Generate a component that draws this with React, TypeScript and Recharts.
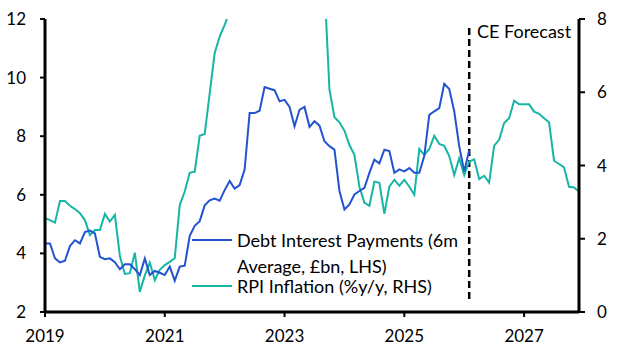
import React from 'react';
import { LineChart, Line, XAxis, YAxis, ReferenceLine } from 'recharts';

const startYear = 2019;

// Debt interest payments, 6m average, £bn (LHS), monthly from Jan 2019
const debtInterest = [
  4.34, 4.34, 3.83, 3.69, 3.75, 4.25, 4.45, 4.34, 4.73, 4.78, 4.68, 3.88,
  3.80, 3.83, 3.70, 3.46, 3.63, 3.63, 3.46, 3.26, 3.83, 3.26, 3.40, 3.34,
  3.26, 3.55, 3.07, 3.55, 3.58, 4.60, 4.94, 5.10, 5.64, 5.81, 5.87, 5.80,
  6.16, 6.47, 6.21, 6.33, 6.86, 8.79, 8.79, 8.87, 9.68, 9.62, 9.57, 9.19,
  9.24, 9.00, 8.34, 8.90, 9.00, 8.32, 8.51, 8.36, 7.83, 7.66, 7.54, 6.13,
  5.50, 5.67, 6.01, 6.13, 6.24, 6.75, 7.20, 7.07, 7.54, 7.49, 6.75, 6.87,
  6.80, 6.91, 6.75, 6.75, 7.32, 8.73, 8.85, 8.96, 9.79, 9.61, 8.85, 7.66,
  6.80, 7.52,
];

// RPI inflation, %y/y (RHS), monthly from Jan 2019 to Dec 2027
const rpiInflation = [
  2.56, 2.51, 2.44, 3.03, 3.03, 2.90, 2.81, 2.70, 2.51, 2.10, 2.24, 2.24,
  2.68, 2.47, 2.65, 1.53, 1.04, 1.06, 1.62, 0.55, 1.00, 1.35, 0.87, 1.15,
  1.28, 1.37, 1.47, 2.92, 3.29, 3.80, 3.83, 4.81, 4.86, 5.97, 7.07, 7.52,
  7.84, 8.2, 9.0, 11.1, 11.7, 11.8, 12.3, 12.3, 12.6, 14.2, 14.0, 13.4,
  13.4, 13.8, 13.5, 11.4, 11.3, 10.7, 9.0, 9.1, 8.9, 6.07, 5.32, 5.18,
  4.95, 4.56, 4.29, 3.42, 2.99, 2.90, 3.56, 3.53, 2.68, 3.42, 3.61, 3.45,
  3.61, 3.42, 3.20, 4.45, 4.29, 4.45, 4.81, 4.59, 4.54, 4.26, 3.74, 4.20,
  3.74, 4.11, 4.17, 3.63, 3.72, 3.53, 4.54, 4.70, 5.16, 5.29, 5.77, 5.67,
  5.67, 5.67, 5.47, 5.41, 5.29, 5.18, 4.13, 4.04, 3.95, 3.42, 3.40, 3.29,
];

const xTicks = [2019, 2021, 2023, 2025, 2027];
const leftTicks = [2, 4, 6, 8, 10, 12];
const rightTicks = [0, 2, 4, 6, 8];
const forecastStart = 2026 + 1 / 12;
const forecastLabel = 'CE Forecast';
const legendDebt = ['Debt Interest Payments (6m', 'Average, £bn, LHS)'];
const legendRpi = 'RPI Inflation (%y/y, RHS)';

const data = rpiInflation.map((r, i) => ({
  t: startYear + i / 12,
  rpi: r,
  debt: i < debtInterest.length ? debtInterest[i] : null,
}));

const BLUE = '#2453D0';
const TEAL = '#17B5A5';
const FONT = 'Lato, "Open Sans", sans-serif';
const tickStyle = { fontSize: 17, fill: '#000', fontFamily: FONT };

export default function App() {
  return (
    <div style={{ position: 'absolute', left: 0, top: 0, width: 627, height: 352, background: '#fff' }}>
      <LineChart width={627} height={352} data={data} margin={{ top: 19, right: 0, bottom: 0, left: 0 }}>
        <XAxis
          dataKey="t"
          type="number"
          domain={[2019, 2019 + 107 / 12]}
          ticks={xTicks}
          tickFormatter={(v) => String(Math.round(v))}
          height={40}
          tickSize={5}
          tickMargin={13}
          axisLine={{ stroke: '#000', strokeWidth: 3 }}
          tickLine={{ stroke: '#000', strokeWidth: 2 }}
          tick={tickStyle}
          allowDataOverflow
        />
        <YAxis
          yAxisId="left"
          orientation="left"
          domain={[2, 12]}
          ticks={leftTicks}
          width={45}
          tickSize={5}
          tickMargin={14}
          axisLine={{ stroke: '#000', strokeWidth: 3 }}
          tickLine={{ stroke: '#000', strokeWidth: 2 }}
          tick={tickStyle}
          allowDataOverflow
        />
        <YAxis
          yAxisId="right"
          orientation="right"
          domain={[0, 8]}
          ticks={rightTicks}
          width={48}
          tickSize={6}
          tickMargin={12}
          axisLine={{ stroke: '#000', strokeWidth: 3 }}
          tickLine={{ stroke: '#000', strokeWidth: 2 }}
          tick={tickStyle}
          allowDataOverflow
        />
        <ReferenceLine
          yAxisId="left"
          segment={[
            { x: forecastStart, y: 11.69 },
            { x: forecastStart, y: 2.44 },
          ]}
          stroke="#000"
          strokeWidth={2.5}
          strokeDasharray="7 4"
          ifOverflow="visible"
        />
        <Line
          yAxisId="right"
          dataKey="rpi"
          stroke={TEAL}
          strokeWidth={2}
          dot={false}
          isAnimationActive={false}
        />
        <Line
          yAxisId="left"
          dataKey="debt"
          stroke={BLUE}
          strokeWidth={2}
          dot={false}
          connectNulls={false}
          isAnimationActive={false}
        />
      </LineChart>
      <div style={{ position: 'absolute', left: 477, top: 20, fontFamily: FONT, fontSize: 18, lineHeight: '22px', color: '#000', whiteSpace: 'nowrap' }}>
        {forecastLabel}
      </div>
      <div style={{ position: 'absolute', left: 192, top: 239, width: 40, height: 2, background: BLUE }} />
      <div style={{ position: 'absolute', left: 192, top: 285, width: 40, height: 2, background: TEAL }} />
      <div style={{ position: 'absolute', left: 237, top: 229, fontFamily: FONT, fontSize: 18, lineHeight: '22px', color: '#000', whiteSpace: 'nowrap' }}>
        {legendDebt[0]}
      </div>
      <div style={{ position: 'absolute', left: 237, top: 255, fontFamily: FONT, fontSize: 18, lineHeight: '22px', color: '#000', whiteSpace: 'nowrap' }}>
        {legendDebt[1]}
      </div>
      <div style={{ position: 'absolute', left: 237, top: 275, fontFamily: FONT, fontSize: 18, lineHeight: '22px', color: '#000', whiteSpace: 'nowrap' }}>
        {legendRpi}
      </div>
    </div>
  );
}
